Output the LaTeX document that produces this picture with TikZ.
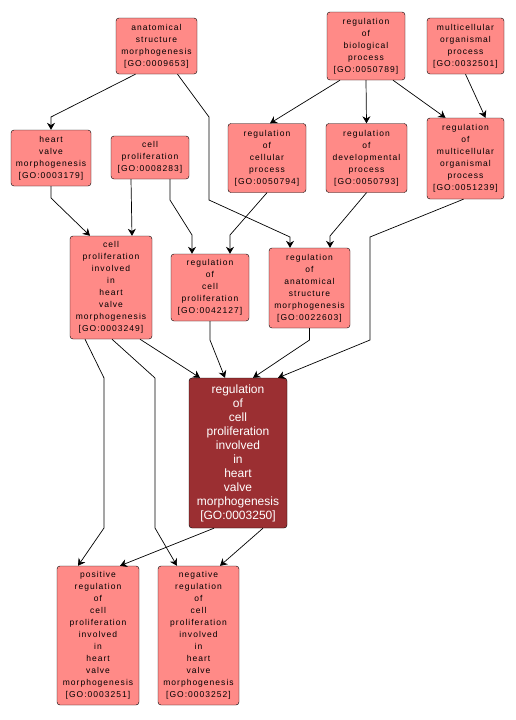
\documentclass[tikz,border=0pt]{standalone}
\usepackage{fontspec}
\setmainfont{Liberation Sans}
\newfontfamily\termfont[LetterSpace=12]{Liberation Sans}
\usetikzlibrary{arrows.meta}
\definecolor{termred}{RGB}{255,138,135}
\definecolor{mainred}{RGB}{155,47,50}
\tikzset{
  term/.style={draw=black, fill=termred, rounded corners=3pt, align=center, inner sep=1pt,
    font=\termfont\fontsize{8.5}{12}\selectfont},
  mainterm/.style={term, fill=mainred, text=white, font=\fontsize{12}{14}\selectfont},
  edge/.style={-{Stealth[length=7pt,width=8pt]}, line width=0.7pt}
}
\begin{document}
\begin{tikzpicture}[x=1pt,y=-1pt]
\useasboundingbox (0,0) rectangle (515,720);
\node[term, minimum width=81pt, minimum height=56pt] (asm) at (156.5,46) {anatomical\\structure\\morphogenesis\\{[GO:0009653]}};
\node[term, minimum width=78pt, minimum height=68pt] (rbp) at (366,46) {regulation\\of\\biological\\process\\{[GO:0050789]}};
\node[term, minimum width=77pt, minimum height=56pt] (mop) at (465.5,46) {multicellular\\organismal\\process\\{[GO:0032501]}};
\node[term, minimum width=80pt, minimum height=56pt] (hvm) at (51,158) {heart\\valve\\morphogenesis\\{[GO:0003179]}};
\node[term, minimum width=78pt, minimum height=43pt] (cp) at (150,157.5) {cell\\proliferation\\{[GO:0008283]}};
\node[term, minimum width=78pt, minimum height=69pt] (rcp) at (267,158) {regulation\\of\\cellular\\process\\{[GO:0050794]}};
\node[term, minimum width=81pt, minimum height=69pt] (rdp) at (366.5,158) {regulation\\of\\developmental\\process\\{[GO:0050793]}};
\node[term, minimum width=77pt, minimum height=81pt] (rmop) at (465.5,158.5) {regulation\\of\\multicellular\\organismal\\process\\{[GO:0051239]}};
\node[term, minimum width=82pt, minimum height=103pt] (cpi) at (111,287.5) {cell\\proliferation\\involved\\in\\heart\\valve\\morphogenesis\\{[GO:0003249]}};
\node[term, minimum width=78pt, minimum height=67pt] (rcpr) at (210,287.5) {regulation\\of\\cell\\proliferation\\{[GO:0042127]}};
\node[term, minimum width=81pt, minimum height=80pt] (rasm) at (309.5,288) {regulation\\of\\anatomical\\structure\\morphogenesis\\{[GO:0022603]}};
\node[mainterm, minimum width=98pt, minimum height=150pt] (main) at (238,453) {regulation\\of\\cell\\proliferation\\involved\\in\\heart\\valve\\morphogenesis\\{[GO:0003250]}};
\node[term, minimum width=82pt, minimum height=139pt] (pos) at (98,635.5) {positive\\regulation\\of\\cell\\proliferation\\involved\\in\\heart\\valve\\morphogenesis\\{[GO:0003251]}};
\node[term, minimum width=81pt, minimum height=139pt] (neg) at (198.5,635.5) {negative\\regulation\\of\\cell\\proliferation\\involved\\in\\heart\\valve\\morphogenesis\\{[GO:0003252]}};

\draw[edge] ([xshift=-21pt]asm.south) -- (51,117) -- (hvm.north);
\draw[edge] ([xshift=21pt]asm.south) -- (209,117) -- (209,200) -- (290,237) -- ([xshift=-19.5pt]rasm.north);
\draw[edge] ([xshift=-26pt]rbp.south) -- ([xshift=3pt]rcp.north);
\draw[edge] (rbp.south) -- (rdp.north);
\draw[edge] ([xshift=27pt]rbp.south) -- ([xshift=-20pt]rmop.north);
\draw[edge] (mop.south) -- ([xshift=20pt]rmop.north);
\draw[edge] (hvm.south) -- (51,198) -- ([xshift=-21pt]cpi.north);
\draw[edge] ([xshift=-19pt]cp.south) -- ([xshift=21pt]cpi.north);
\draw[edge] ([xshift=20pt]cp.south) -- (170,200) -- (192,235) -- ([xshift=-18pt]rcpr.north);
\draw[edge] (rcp.south) -- (230,235) -- ([xshift=20pt]rcpr.north);
\draw[edge] (rdp.south) -- (330,236) -- ([xshift=20.5pt]rasm.north);
\draw[edge] ([xshift=-2pt]rmop.south) -- (370,237) -- (370,340) -- ([xshift=40pt]main.north);
\draw[edge] (rasm.south) -- (309.5,340) -- ([xshift=15pt]main.north);
\draw[edge] (rcpr.south) -- (210,340) -- ([xshift=-13pt]main.north);
\draw[edge] ([xshift=29pt]cpi.south) -- ([xshift=-38pt]main.north);
\draw[edge] ([xshift=-26pt]cpi.south) -- (104,378) -- (104,528) -- ([xshift=-20pt]pos.north);
\draw[edge] ([xshift=1pt]cpi.south) -- (155,378) -- (155,528) -- ([xshift=-21.5pt]neg.north);
\draw[edge] ([xshift=-24pt]main.south) -- ([xshift=22pt]pos.north);
\draw[edge] ([xshift=25pt]main.south) -- ([xshift=21.5pt]neg.north);
\end{tikzpicture}
\end{document}
